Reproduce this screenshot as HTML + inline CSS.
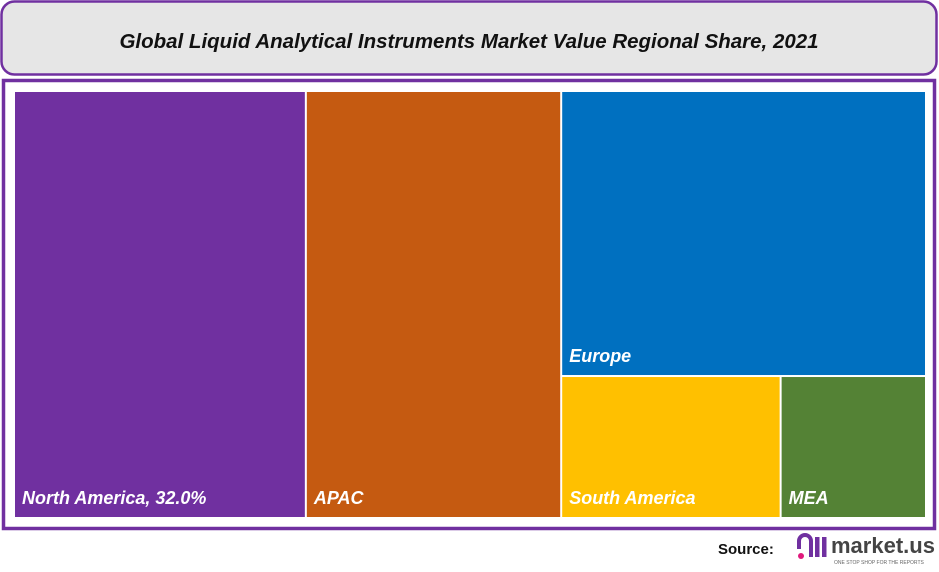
<!DOCTYPE html>
<html><head><meta charset="utf-8"><style>
body{margin:0;width:939px;height:567px;background:#fff;overflow:hidden;font-family:"Liberation Sans",sans-serif}
</style></head><body>
<svg width="939" height="567" xmlns="http://www.w3.org/2000/svg">
<rect x="1.5" y="1.5" width="935" height="73" rx="13" fill="#e6e6e6" stroke="#7030a0" stroke-width="2.5"/>
<text x="469" y="48" text-anchor="middle" font-size="20.5" font-weight="bold" font-style="italic" fill="#111">Global Liquid Analytical Instruments Market Value Regional Share, 2021</text>
<rect x="3.5" y="80.5" width="931" height="448" fill="#fff" stroke="#7030a0" stroke-width="3.5"/>
<g id="tiles"></g>
<text x="718" y="554" font-size="15" font-weight="bold" fill="#111">Source:</text>
<g>
<circle cx="801" cy="556" r="3" fill="#e0197d"/>
<path d="M799 549 v-8 a6 6 0 0 1 12 0 v16" fill="none" stroke="#7030a0" stroke-width="4"/>
<rect x="815" y="537" width="4.5" height="20" fill="#7030a0"/>
<rect x="822" y="537" width="4.5" height="20" fill="#7030a0"/>
<text x="831" y="553" font-size="22" font-weight="bold" fill="#444">market.us</text>
<text x="834" y="564" font-size="5" fill="#666">ONE STOP SHOP FOR THE REPORTS</text>
</g>
</svg>
<script>
const regions=["North America","APAC","Europe","South America","MEA"];
const shares=[32.0,28.0,26.7,8.0,5.3];
const labels=["North America, 32.0%","APAC","Europe","South America","MEA"];
const colors=["#7030a0","#c55a11","#0070c0","#ffc000","#548235"];
const X0=14,Y0=91,W=912,H=427,G=2;
const ns="http://www.w3.org/2000/svg";
const g=document.getElementById('tiles');
const total=shares.reduce((a,b)=>a+b,0);
const xs=v=>v/total*W;
const rects=[];
let x=X0;
const wNA=xs(shares[0]);rects.push([x,Y0,wNA,H]);x+=wNA;
const wAP=xs(shares[1]);rects.push([x,Y0,wAP,H]);x+=wAP;
const rest=shares[2]+shares[3]+shares[4];
const wR=X0+W-x;
const hE=shares[2]/rest*H;rects.push([x,Y0,wR,hE]);
const bot=shares[3]+shares[4];
const wSA=shares[3]/bot*wR;
rects.push([x,Y0+hE,wSA,H-hE]);
rects.push([x+wSA,Y0+hE,wR-wSA,H-hE]);
rects.forEach((r,i)=>{
 const rc=document.createElementNS(ns,'rect');
 rc.setAttribute('x',r[0]+G/2);rc.setAttribute('y',r[1]+G/2);
 rc.setAttribute('width',r[2]-G);rc.setAttribute('height',r[3]-G);
 rc.setAttribute('fill',colors[i]);
 
 
 g.appendChild(rc);
 const t=document.createElementNS(ns,'text');
 t.setAttribute('x',r[0]+8);t.setAttribute('y',r[1]+r[3]-14);
 t.setAttribute('font-size','18');t.setAttribute('font-weight','bold');t.setAttribute('font-style','italic');
 t.setAttribute('fill','#fff');t.textContent=labels[i];
 
 
 g.appendChild(t);
});
</script>
</body></html>
